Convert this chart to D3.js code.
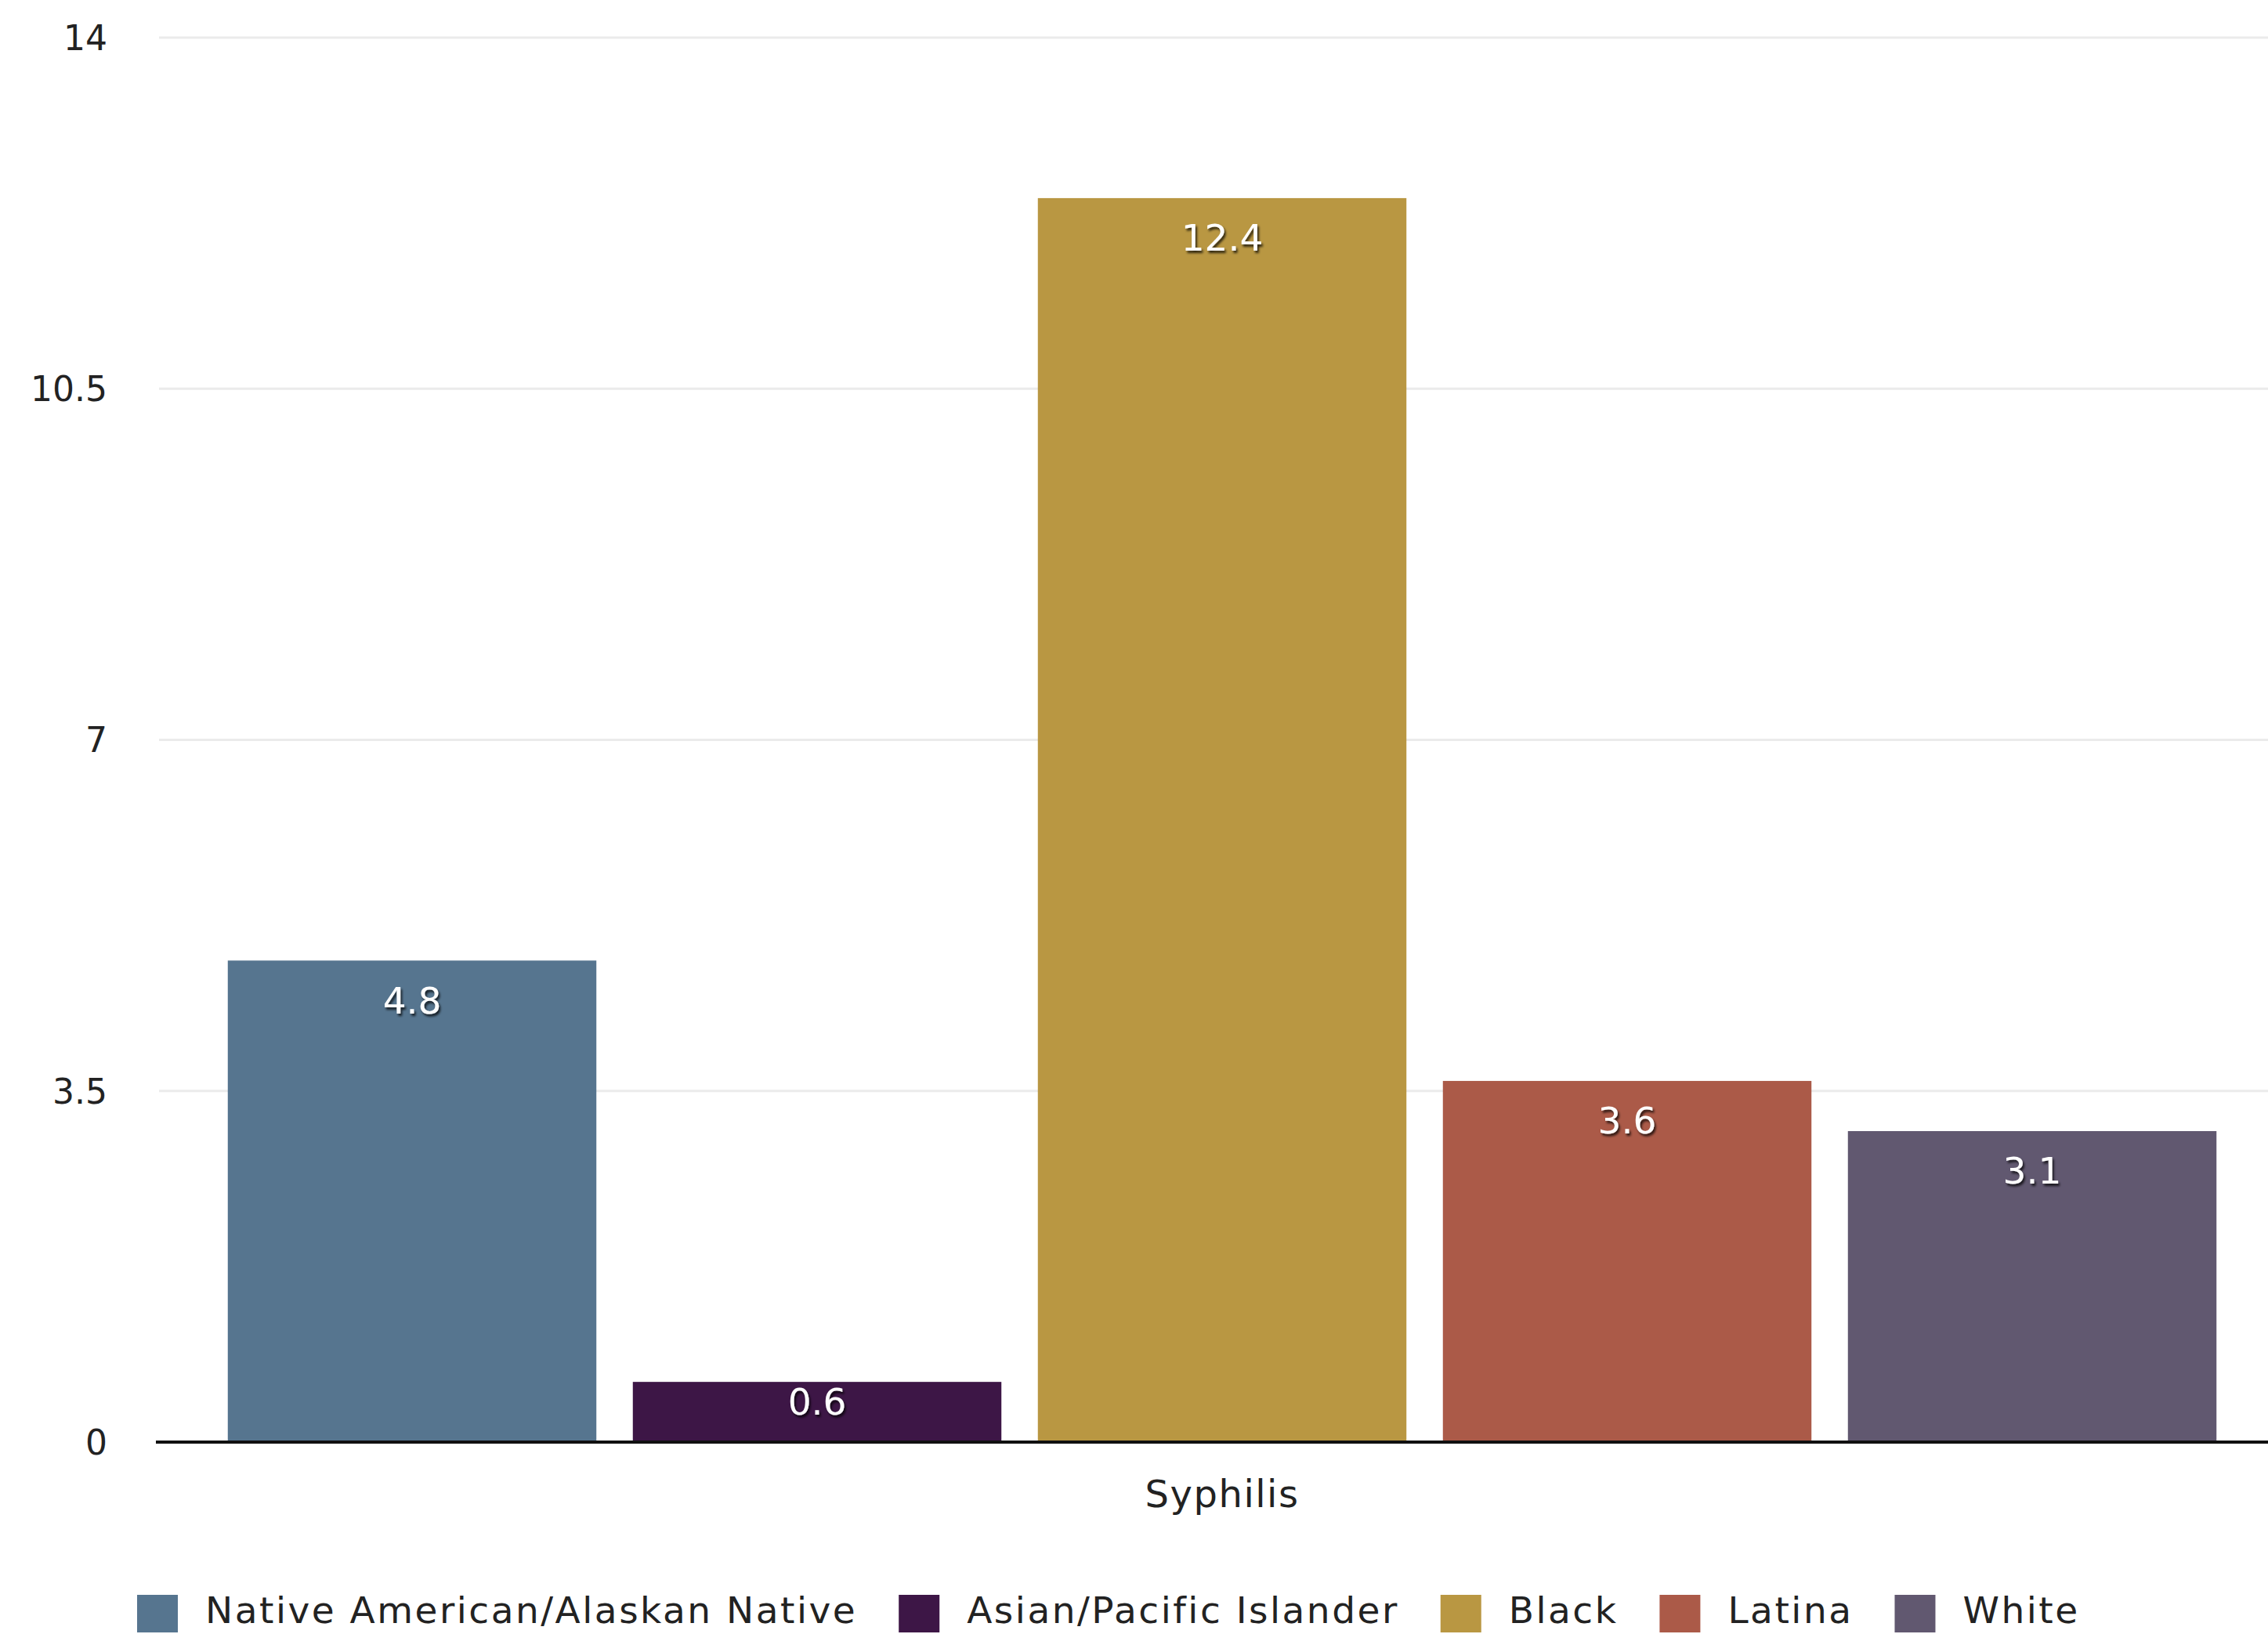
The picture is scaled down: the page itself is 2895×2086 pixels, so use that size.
<!DOCTYPE html>
<html>
<head>
<meta charset="utf-8">
<script src="https://cdn.jsdelivr.net/npm/d3@7"></script>
<style>
  html, body { margin: 0; padding: 0; background: #fff; }
  svg { display: block; }
  text { font-family: "DejaVu Sans", sans-serif; }
</style>
</head>
<body>
<svg id="chart" width="2895" height="2086"></svg>
<script>
const categories = ["Syphilis"];
const seriesNames = ["Native American/Alaskan Native", "Asian/Pacific Islander", "Black", "Latina", "White"];
const seriesValues = [4.8, 0.6, 12.4, 3.6, 3.1];
const seriesColors = ["#56758f", "#3d1646", "#b99742", "#ab5a48", "#615870"];
const yTicks = [0, 3.5, 7, 10.5, 14];
const yTickLabels = ["0", "3.5", "7", "10.5", "14"];

const svg = d3.select("#chart");
const W = 2895, H = 2086;
const plotLeft = 199, plotRight = 2921, plotTop = 48, plotBottom = 1841;

const defs = svg.append("defs");
const f = defs.append("filter").attr("id", "shadow").attr("x", "-20%").attr("y", "-20%").attr("width", "140%").attr("height", "160%");
f.append("feDropShadow").attr("dx", 2).attr("dy", 3).attr("stdDeviation", 1.5).attr("flood-color", "#000").attr("flood-opacity", 0.75);

const y = d3.scaleLinear().domain([0, 14]).range([plotBottom, plotTop]);
const x0 = d3.scaleBand().domain(categories).range([plotLeft, plotRight]).paddingInner(0).paddingOuter(0.0265);
const x1 = d3.scaleBand().domain(seriesNames).range([0, x0.bandwidth()]).paddingInner(0.09).paddingOuter(0.045);

// gridlines
svg.append("g").selectAll("line").data(yTicks.filter(d => d > 0)).join("line")
  .attr("x1", 203).attr("x2", W)
  .attr("y1", d => y(d)).attr("y2", d => y(d))
  .attr("stroke", "#ebebeb").attr("stroke-width", 3);

// y axis labels
const yAxis = d3.axisLeft(y).tickValues(yTicks).tickSize(0).tickPadding(0)
  .tickFormat((d, i) => yTickLabels[i]);
const gy = svg.append("g").attr("transform", "translate(137,0)").call(yAxis);
gy.select(".domain").remove();
gy.selectAll("text").attr("font-family", "DejaVu Sans, sans-serif").attr("font-size", 44).attr("fill", "#222").attr("dy", "0.35em");

// bars
const data = seriesNames.map((s, i) => ({ cat: categories[0], series: s, value: seriesValues[i], color: seriesColors[i] }));
const gBars = svg.append("g");
gBars.selectAll("rect").data(data).join("rect")
  .attr("x", d => x0(d.cat) + x1(d.series))
  .attr("width", x1.bandwidth())
  .attr("y", d => y(d.value))
  .attr("height", d => y(0) - y(d.value))
  .attr("fill", d => d.color);

// value labels
gBars.selectAll("text").data(data).join("text")
  .attr("x", d => x0(d.cat) + x1(d.series) + x1.bandwidth() / 2)
  .attr("y", d => y(d.value) + Math.min(51, (y(0) - y(d.value)) * 0.33))
  .attr("dy", "0.35em")
  .attr("text-anchor", "middle")
  .attr("font-size", 47)
  .attr("fill", "#fff")
  .attr("filter", "url(#shadow)")
  .text(d => d.value);

// baseline
svg.append("line").attr("x1", plotLeft).attr("x2", W).attr("y1", plotBottom).attr("y2", plotBottom)
  .attr("stroke", "#111").attr("stroke-width", 4);

// category label
svg.append("g").selectAll("text").data(categories).join("text")
  .attr("x", d => x0(d) + x0.bandwidth() / 2)
  .attr("y", 1907).attr("dy", "0.35em")
  .attr("text-anchor", "middle")
  .attr("font-size", 48).attr("letter-spacing", 1.5).attr("fill", "#222")
  .text(d => d);

// legend
const legend = svg.append("g");
let lx = 175;
seriesNames.forEach((s, i) => {
  legend.append("rect").attr("x", lx).attr("y", 2036).attr("width", 52).attr("height", 48).attr("fill", seriesColors[i]);
  const t = legend.append("text").attr("x", lx + 87).attr("y", 2056).attr("dy", "0.35em")
    .attr("font-size", 47).attr("letter-spacing", 2.5).attr("fill", "#222").text(s);
  lx = lx + 87 + t.node().getBBox().width + 53;
});
</script>
</body>
</html>
